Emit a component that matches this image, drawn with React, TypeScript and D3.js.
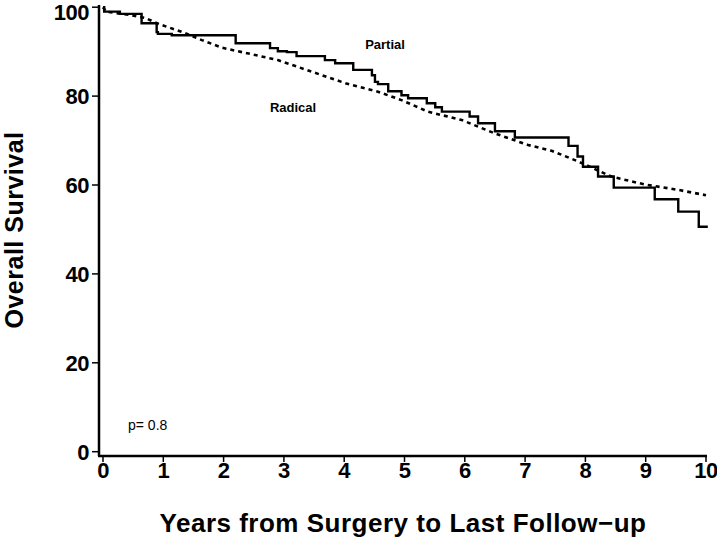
import React from "react";
import * as d3 from "d3";

const partialTimes = [0, 0.02, 0.28, 0.64, 0.89, 0.91, 1.14, 2.2, 2.77, 2.9, 3.05, 3.21, 3.68, 3.85, 4.15, 4.46, 4.51, 4.56, 4.73, 4.95, 5.06, 5.37, 5.51, 5.62, 6.08, 6.22, 6.5, 6.83, 7.72, 7.87, 7.96, 8.21, 8.47, 9.15, 9.54, 9.88, 10.03];
const partialValues = [100, 99.0, 98.5, 96.4, 94.4, 94.0, 93.7, 91.9, 90.8, 90.1, 89.9, 89.0, 88.1, 87.4, 85.9, 84.7, 83.2, 82.7, 81.1, 80.2, 79.5, 78.4, 77.5, 76.5, 75.4, 73.9, 72.1, 70.7, 68.8, 66.4, 64.1, 61.9, 59.4, 56.8, 54.0, 50.6, 50.6];

const radicalTimes = [0, 0.05, 0.47, 0.7, 0.86, 0.97, 1.3, 1.64, 1.97, 2.47, 2.9, 3.46, 4.02, 4.56, 4.95, 5.39, 5.95, 6.5, 7.05, 7.44, 7.88, 8.43, 8.99, 9.54, 10.0];
const radicalValues = [100, 99.0, 98.2, 97.6, 96.6, 96.0, 94.5, 92.6, 90.9, 89.4, 88.1, 85.5, 82.9, 81.0, 79.1, 76.5, 74.6, 71.6, 69.0, 67.7, 65.3, 61.9, 60.1, 58.9, 57.7];

const xTicks = [0, 1, 2, 3, 4, 5, 6, 7, 8, 9, 10];
const yTicks = [0, 20, 40, 60, 80, 100];

export default function App() {
  const W = 717, H = 544;
  const x = d3.scaleLinear().domain([0, 10]).range([103, 706]);
  const y = d3.scaleLinear().domain([0, 100]).range([451.7, 7.2]);
  const axisX = 99;
  const axisY = 456;
  const font = "'Liberation Sans', Arial, Helvetica, sans-serif";

  const partial = partialTimes.map((t, i) => [t, partialValues[i]] as [number, number]);
  const radical = radicalTimes.map((t, i) => [t, radicalValues[i]] as [number, number]);

  const stepLine = d3.line<[number, number]>().x(d => x(d[0])).y(d => y(d[1])).curve(d3.curveStepAfter);
  const smoothLine = d3.line<[number, number]>().x(d => x(d[0])).y(d => y(d[1])).curve(d3.curveLinear);

  return (
    <svg width={W} height={H} style={{ position: "absolute", left: 0, top: 0, background: "#fff" }}>
      <rect x={0} y={0} width={W} height={H} fill="#fff" />
      {/* axes */}
      <line x1={axisX} x2={axisX} y1={5} y2={axisY} stroke="#000" strokeWidth={2.5} />
      <line x1={axisX - 1} x2={707} y1={axisY} y2={axisY} stroke="#000" strokeWidth={2.5} />
      {yTicks.map(v => (
        <g key={"y" + v}>
          <line x1={axisX - 7} x2={axisX} y1={y(v)} y2={y(v)} stroke="#000" strokeWidth={1.5} />
          <text x={89} y={Math.max(y(v), 12.5)} dy="0.36em" textAnchor="end" fontFamily={font} fontWeight="bold" fontSize={22} letterSpacing={-0.5}>{v}</text>
        </g>
      ))}
      {xTicks.map(t => (
        <g key={"x" + t}>
          <line x1={x(t)} x2={x(t)} y1={axisY} y2={axisY + 6} stroke="#000" strokeWidth={1.5} />
          <text x={x(t)} y={478} textAnchor="middle" fontFamily={font} fontWeight="bold" fontSize={22} letterSpacing={-0.5}>{t}</text>
        </g>
      ))}
      <text x={403} y={532} textAnchor="middle" fontFamily={font} fontWeight="bold" fontSize={26} letterSpacing={0.5}>Years from Surgery to Last Follow−up</text>
      <text transform="translate(23,230) rotate(-90)" textAnchor="middle" fontFamily={font} fontWeight="bold" fontSize={25} letterSpacing={0.5}>Overall Survival</text>

      {/* curves */}
      <path d={smoothLine(radical) || ""} fill="none" stroke="#000" strokeWidth={2.6} strokeDasharray="4,4" />
      <path d={stepLine(partial) || ""} fill="none" stroke="#000" strokeWidth={2.4} />

      <text x={385} y={49} textAnchor="middle" fontFamily={font} fontWeight="bold" fontSize={13}>Partial</text>
      <text x={293} y={112} textAnchor="middle" fontFamily={font} fontWeight="bold" fontSize={13}>Radical</text>
      <text x={128} y={430} fontFamily={font} fontSize={14}>p= 0.8</text>
    </svg>
  );
}
